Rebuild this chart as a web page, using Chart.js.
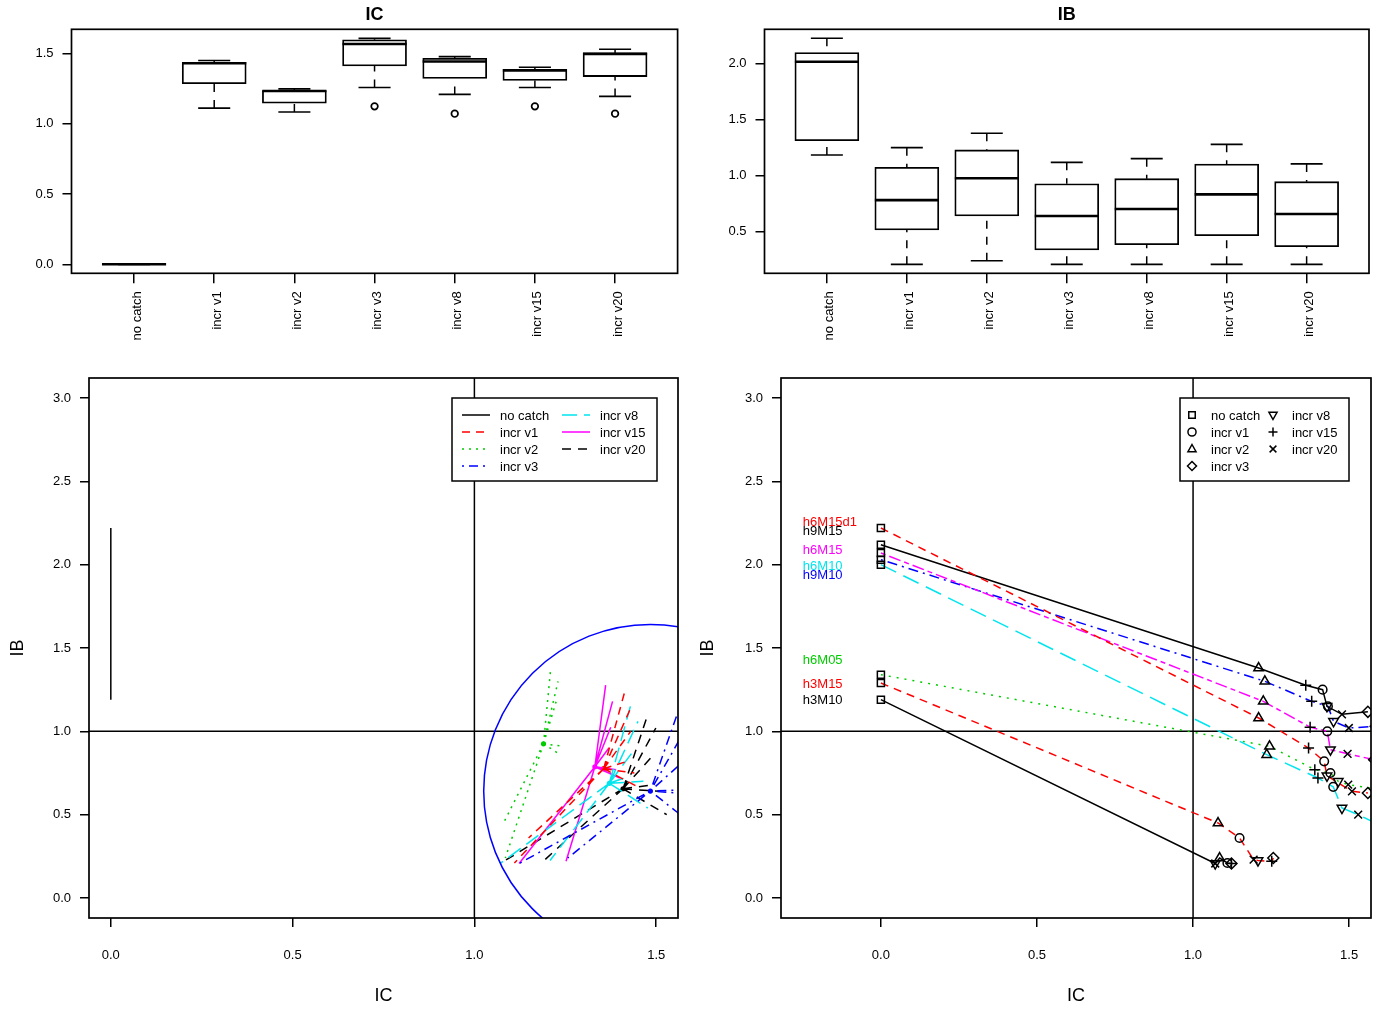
<!DOCTYPE html>
<html>
<head>
<meta charset="utf-8">
<script src="https://cdn.jsdelivr.net/npm/chart.js@4.4.1/dist/chart.umd.min.js"></script>
<style>
  html, body { margin: 0; padding: 0; background: #fff; }
  #wrap { position: relative; width: 1380px; height: 1009px; }
  canvas { position: absolute; }
</style>
</head>
<body>
<div id="wrap">
  <canvas id="boxIC" width="690" height="350" style="left:0;top:0"></canvas>
  <canvas id="boxIB" width="690" height="350" style="left:690px;top:0"></canvas>
  <canvas id="spokes" width="690" height="659" style="left:0;top:350px"></canvas>
  <canvas id="paths" width="690" height="659" style="left:690px;top:350px"></canvas>
</div>
<script>
const FONT = "'Liberation Sans', Arial, Helvetica, sans-serif";
Chart.defaults.font.family = FONT;
Chart.defaults.font.size = 13;
Chart.defaults.color = '#000';
Chart.defaults.animation = false;

// harvest rules (categories)
const rules = ['no catch', 'incr v1', 'incr v2', 'incr v3', 'incr v8', 'incr v15', 'incr v20'];

// boxplot statistics, IC panel
const icLow  = [0, 1.111, 1.083, 1.257, 1.208, 1.257, 1.194];
const icQ1   = [0, 1.284, 1.146, 1.411, 1.321, 1.307, 1.335];
const icMed  = [0, 1.430, 1.232, 1.567, 1.442, 1.378, 1.496];
const icQ3   = [0, 1.437, 1.236, 1.596, 1.465, 1.387, 1.503];
const icHigh = [0, 1.449, 1.248, 1.607, 1.477, 1.401, 1.529];
const icOut  = [[], [], [], [1.123], [1.071], [1.123], [1.071]];

// boxplot statistics, IB panel
const ibLow  = [1.182, 0.207, 0.239, 0.207, 0.207, 0.207, 0.207];
const ibQ1   = [1.310, 0.513, 0.638, 0.335, 0.382, 0.462, 0.364];
const ibMed  = [2.014, 0.780, 0.975, 0.638, 0.700, 0.831, 0.656];
const ibQ3   = [2.095, 1.072, 1.227, 0.926, 0.971, 1.102, 0.944];
const ibHigh = [2.223, 1.247, 1.376, 1.117, 1.149, 1.277, 1.102];
const ibOut  = [[], [], [], [], [], [], []];

// stocks (operating models)
const stocks = ['h6M15d1', 'h9M15', 'h6M15', 'h6M10', 'h9M10', 'h6M05', 'h3M15', 'h3M10'];

// IC / IB per rule, one value per stock (same order as stocks)
const icNoCatch = [0, 0, 0, 0, 0, 0, 0, 0];
const ibNoCatch = [2.22, 2.12, 2.07, 2.00, 2.03, 1.34, 1.29, 1.19];
const icV1  = [1.420, 1.415, 1.430, 1.449, 1.432, 1.440, 1.149, 1.110];
const ibV1  = [0.820, 1.250, 1.000, 0.667, 1.150, 0.750, 0.360, 0.210];
const icV2  = [1.210, 1.210, 1.225, 1.236, 1.230, 1.245, 1.080, 1.085];
const ibV2  = [1.080, 1.380, 1.180, 0.860, 1.300, 0.910, 0.450, 0.240];
const icV3  = [1.560, 1.560, 1.580, 1.607, 1.585, 1.600, 1.257, 1.123];
const ibV3  = [0.630, 1.117, 0.830, 0.430, 1.030, 0.650, 0.240, 0.207];
const icV8  = [1.429, 1.429, 1.440, 1.477, 1.450, 1.465, 1.208, 1.071];
const ibV8  = [0.733, 1.150, 0.890, 0.540, 1.060, 0.700, 0.225, 0.207];
const icV15 = [1.370, 1.361, 1.375, 1.400, 1.380, 1.390, 1.252, 1.123];
const ibV15 = [0.900, 1.277, 1.025, 0.720, 1.180, 0.770, 0.220, 0.207];
const icV20 = [1.509, 1.477, 1.495, 1.529, 1.499, 1.497, 1.194, 1.071];
const ibV20 = [0.640, 1.102, 0.865, 0.500, 1.020, 0.680, 0.230, 0.207];

const icByRule = [icNoCatch, icV1, icV2, icV3, icV8, icV15, icV20];
const ibByRule = [ibNoCatch, ibV1, ibV2, ibV3, ibV8, ibV15, ibV20];

// tick labels
const icBoxTicks = [0, 0.5, 1.0, 1.5];
const ibBoxTicks = [0.5, 1.0, 1.5, 2.0];
const ibTicks = [0, 0.5, 1.0, 1.5, 2.0, 2.5, 3.0];
const icTicks = [0, 0.5, 1.0, 1.5];

// styles
const ruleColors = ['#000000', '#ff0000', '#00cd00', '#0000ff', '#00e5ee', '#ff00ff', '#000000'];
const ruleDash = [[], [8, 6], [2, 5], [2, 5, 9, 5], [15, 7], [], [9, 7]];
const ruleMarker = ['rect', 'circle', 'triangle', 'rectRot', 'triangleDown', 'cross', 'crossRot'];
const stockColors = ['#ff0000', '#000000', '#ff00ff', '#00e5ee', '#0000ff', '#00cd00', '#ff0000', '#000000'];
const stockDash = [[8, 6], [], [5, 4, 12, 4], [17, 8], [2, 5, 10, 5], [2, 6], [8, 6], []];
const stockLabelY = [2.255, 2.200, 2.085, 1.990, 1.935, 1.425, 1.280, 1.185];
const stockLabelX = -0.25;
const refLine = 1.0;
const circleRadiusIB = 1.0;

// ---------- helpers ----------
function fixWidth(w) { return s => { s.width = w; }; }
function fixHeight(h) { return s => { s.height = h; }; }
function setTicks(vals) { return s => { s.ticks = vals.map(v => ({ value: v })); }; }

function drawMarker(ctx, style, x, y, r) {
  ctx.beginPath();
  if (style === 'rect') {
    const h = r * 0.72;
    ctx.rect(x - h, y - h, 2 * h, 2 * h);
  } else if (style === 'circle') {
    ctx.arc(x, y, r * 0.9, 0, Math.PI * 2);
  } else if (style === 'triangle' || style === 'triangleDown') {
    const d = style === 'triangle' ? 1 : -1;
    ctx.moveTo(x, y - d * r);
    ctx.lineTo(x + r * 0.9, y + d * r * 0.6);
    ctx.lineTo(x - r * 0.9, y + d * r * 0.6);
    ctx.closePath();
  } else if (style === 'rectRot') {
    ctx.moveTo(x, y - r); ctx.lineTo(x + r, y); ctx.lineTo(x, y + r); ctx.lineTo(x - r, y); ctx.closePath();
  } else if (style === 'cross') {
    ctx.moveTo(x - r, y); ctx.lineTo(x + r, y); ctx.moveTo(x, y - r); ctx.lineTo(x, y + r);
  } else if (style === 'crossRot') {
    const k = r * 0.75;
    ctx.moveTo(x - k, y - k); ctx.lineTo(x + k, y + k); ctx.moveTo(x - k, y + k); ctx.lineTo(x + k, y - k);
  }
  ctx.stroke();
}

const framePlugin = {
  id: 'frame',
  afterDatasetsDraw(chart) {
    const { ctx, chartArea: a } = chart;
    ctx.save();
    ctx.strokeStyle = '#000';
    ctx.lineWidth = 1.7;
    ctx.strokeRect(a.left, a.top, a.right - a.left, a.bottom - a.top);
    ctx.restore();
  }
};

const panelTitle = {
  id: 'panelTitle',
  afterDraw(chart, args, opts) {
    if (!opts.text) return;
    const { ctx, chartArea: a } = chart;
    ctx.save();
    ctx.font = 'bold 18px ' + FONT;
    ctx.fillStyle = '#000';
    ctx.textAlign = 'center';
    ctx.textBaseline = 'middle';
    ctx.fillText(opts.text, (a.left + a.right) / 2, 15);
    ctx.restore();
  }
};

// abline(h = 1, v = 1)
const refLines = {
  id: 'refLines',
  beforeDatasetsDraw(chart) {
    const { ctx, chartArea: a, scales: { x, y } } = chart;
    const px = x.getPixelForValue(refLine), py = y.getPixelForValue(refLine);
    ctx.save();
    ctx.strokeStyle = '#000';
    ctx.lineWidth = 1.5;
    ctx.beginPath();
    ctx.moveTo(px, a.top); ctx.lineTo(px, a.bottom);
    ctx.moveTo(a.left, py); ctx.lineTo(a.right, py);
    ctx.stroke();
    ctx.restore();
  }
};

// legend box drawn inside the plot, R style
const boxLegend = {
  id: 'boxLegend',
  afterDraw(chart, args, o) {
    if (!o.items) return;
    const { ctx, chartArea: a } = chart;
    const left = a.right - o.right - o.width, top = a.top + 20;
    ctx.save();
    ctx.strokeStyle = '#000';
    ctx.lineWidth = 1.5;
    ctx.fillStyle = '#fff';
    ctx.fillRect(left, top, o.width, 83);
    ctx.strokeRect(left, top, o.width, 83);
    ctx.font = '13px ' + FONT;
    ctx.textBaseline = 'middle';
    o.items.forEach((it, i) => {
      const col = i < 4 ? 0 : 1;
      const row = i < 4 ? i : i - 4;
      const x0 = left + o.cols[col];
      const yy = top + 17 + row * 17;
      ctx.strokeStyle = it.color;
      if (it.marker) {
        ctx.setLineDash([]);
        ctx.lineWidth = 1.5;
        drawMarker(ctx, it.marker, x0, yy, 4.5);
        ctx.fillStyle = '#000';
        ctx.fillText(it.label, x0 + o.textGap, yy + 1);
      } else {
        ctx.setLineDash(it.dash);
        ctx.lineWidth = 1.5;
        ctx.beginPath();
        ctx.moveTo(x0, yy); ctx.lineTo(x0 + 28, yy);
        ctx.stroke();
        ctx.setLineDash([]);
        ctx.fillStyle = '#000';
        ctx.fillText(it.label, x0 + o.textGap, yy + 1);
      }
    });
    ctx.restore();
  }
};

// ---------- boxplots ----------
function boxChart(id, title, lo, q1, med, q3, hi, out, yMin, yMax, yTicks, yW, padR) {
  const boxes = [], medLines = [], whisk = [], caps = [], outs = [];
  rules.forEach((r, i) => {
    boxes.push({ x: i, y: [q1[i], q3[i]] });
    medLines.push({ x: i - 0.4, y: med[i] }, { x: i + 0.4, y: med[i] }, { x: i, y: null });
    whisk.push({ x: i, y: hi[i] }, { x: i, y: q3[i] }, { x: i, y: null },
               { x: i, y: lo[i] }, { x: i, y: q1[i] }, { x: i, y: null });
    caps.push({ x: i - 0.2, y: hi[i] }, { x: i + 0.2, y: hi[i] }, { x: i, y: null },
              { x: i - 0.2, y: lo[i] }, { x: i + 0.2, y: lo[i] }, { x: i, y: null });
    out[i].forEach(v => outs.push({ x: i, y: v }));
  });
  return new Chart(document.getElementById(id), {
    type: 'bar',
    data: {
      datasets: [
        { type: 'bar', data: boxes, backgroundColor: '#fff', borderColor: '#000', borderWidth: 1.8,
          borderSkipped: false, barThickness: 64, order: 5 },
        { type: 'line', data: whisk, borderColor: '#000', borderWidth: 1.5, borderDash: [8, 8],
          pointRadius: 0, spanGaps: false, order: 4 },
        { type: 'line', data: caps, borderColor: '#000', borderWidth: 1.7,
          pointRadius: 0, spanGaps: false, order: 3 },
        { type: 'line', data: medLines, borderColor: '#000', borderWidth: 2.6,
          pointRadius: 0, spanGaps: false, order: 1 },
        { type: 'scatter', data: outs, borderColor: '#000', backgroundColor: 'rgba(0,0,0,0)',
          borderWidth: 1.7, pointRadius: 3.3, order: 2 }
      ]
    },
    options: {
      responsive: false,
      devicePixelRatio: 1,
      layout: { padding: { top: 29.3, right: padR, left: 0, bottom: 0 } },
      plugins: { legend: { display: false }, tooltip: { enabled: false }, panelTitle: { text: title } },
      scales: {
        x: {
          type: 'linear', min: -0.78, max: 6.78, offset: false,
          afterBuildTicks: setTicks(rules.map((r, i) => i)),
          afterFit: fixHeight(76.7),
          grid: { offset: false, drawOnChartArea: false, drawTicks: true, tickLength: 10, color: '#000', lineWidth: 1.5 },
          border: { display: false },
          ticks: { autoSkip: false, minRotation: 90, maxRotation: 90, padding: 8, labelOffset: 3,
                   callback: v => rules[v], font: { size: 13 } }
        },
        y: {
          min: yMin, max: yMax,
          afterBuildTicks: setTicks(yTicks),
          afterFit: fixWidth(yW),
          grid: { drawOnChartArea: false, drawTicks: true, tickLength: 9, color: '#000', lineWidth: 1.5 },
          border: { display: false },
          ticks: { padding: 9, callback: v => v.toFixed(1) }
        }
      }
    },
    plugins: [framePlugin, panelTitle]
  });
}

boxChart('boxIC', 'IC', icLow, icQ1, icMed, icQ3, icHigh, icOut, -0.064, 1.671, icBoxTicks, 71.5, 12.4);
boxChart('boxIB', 'IB', ibLow, ibQ1, ibMed, ibQ3, ibHigh, ibOut, 0.127, 2.303, ibBoxTicks, 74.5, 11);

// ---------- shared scatter axes ----------
function xyScales(xMin, xMax, yW) {
  return {
    x: {
      type: 'linear', min: xMin, max: xMax,
      afterBuildTicks: setTicks(icTicks),
      afterFit: fixHeight(91),
      grid: { drawOnChartArea: false, drawTicks: true, tickLength: 9, color: '#000', lineWidth: 1.5 },
      border: { display: false },
      ticks: { padding: 21, callback: v => v.toFixed(1) },
      title: { display: true, text: 'IC', font: { size: 18 }, padding: { top: 0, bottom: 2 } }
    },
    y: {
      min: -0.12, max: 3.12,
      afterBuildTicks: setTicks(ibTicks),
      afterFit: fixWidth(yW),
      grid: { drawOnChartArea: false, drawTicks: true, tickLength: 9, color: '#000', lineWidth: 1.5 },
      border: { display: false },
      ticks: { padding: 9, callback: v => v.toFixed(1) },
      title: { display: true, text: 'IB', font: { size: 18 }, padding: { top: 7, bottom: 0 } }
    }
  };
}

function mean(a) { return a.reduce((s, v) => s + v, 0) / a.length; }

// ---------- bottom left: spokes from each rule's centre to every stock ----------
const spokeSets = [], hubPts = [], hubColors = [];
rules.forEach((r, k) => {
  const hub = { x: mean(icByRule[k]), y: mean(ibByRule[k]) };
  const d = [];
  stocks.forEach((s, j) => {
    d.push({ x: hub.x, y: hub.y }, { x: icByRule[k][j], y: ibByRule[k][j] }, { x: hub.x, y: null });
  });
  spokeSets.push({ type: 'line', label: r, data: d, borderColor: ruleColors[k], borderDash: ruleDash[k],
                   borderWidth: 1.5, pointRadius: 0, spanGaps: false });
  if (k > 0) { hubPts.push(hub); hubColors.push(ruleColors[k]); }
});
const hubSet = { type: 'scatter', data: hubPts, pointRadius: 2.6, borderWidth: 0,
                 backgroundColor: hubColors };

// circle around the incr v3 centre
const v3Circle = {
  id: 'v3Circle',
  afterDatasetsDraw(chart) {
    const { ctx, chartArea: a, scales: { x, y } } = chart;
    const cx = x.getPixelForValue(mean(icV3)), cy = y.getPixelForValue(mean(ibV3));
    const r = y.getPixelForValue(0) - y.getPixelForValue(circleRadiusIB);
    ctx.save();
    ctx.beginPath();
    ctx.rect(a.left, a.top, a.right - a.left, a.bottom - a.top);
    ctx.clip();
    ctx.strokeStyle = '#0000ff';
    ctx.lineWidth = 1.5;
    ctx.beginPath();
    ctx.arc(cx, cy, r, 0, Math.PI * 2);
    ctx.stroke();
    ctx.restore();
  }
};

new Chart(document.getElementById('spokes'), {
  type: 'line',
  data: { datasets: [...spokeSets, hubSet] },
  options: {
    responsive: false,
    devicePixelRatio: 1,
    layout: { padding: { top: 28, right: 12, left: 0, bottom: 0 } },
    plugins: {
      legend: { display: false }, tooltip: { enabled: false },
      boxLegend: {
        right: 21, width: 205, cols: [10, 110], textGap: 38,
        items: rules.map((r, k) => ({ label: r, color: ruleColors[k], dash: ruleDash[k] }))
      }
    },
    scales: xyScales(-0.06, 1.56, 89)
  },
  plugins: [refLines, v3Circle, framePlugin, boxLegend]
});

// ---------- bottom right: each stock's path through the rules ----------
const pathSets = stocks.map((s, j) => {
  const pts = rules.map((r, k) => ({ x: icByRule[k][j], y: ibByRule[k][j] }));
  pts.sort((p, q) => p.x - q.x);
  return { type: 'line', label: s, data: pts, borderColor: stockColors[j], borderDash: stockDash[j],
           borderWidth: 1.5, pointRadius: 0 };
});
const markerSets = rules.map((r, k) => ({
  type: 'scatter', label: r,
  data: stocks.map((s, j) => ({ x: icByRule[k][j], y: ibByRule[k][j] })),
  pointStyle: ruleMarker[k] === 'triangleDown' ? 'triangle' : ruleMarker[k],
  rotation: ruleMarker[k] === 'triangleDown' ? 180 : 0,
  pointRadius: ruleMarker[k] === 'circle' ? 4.3 : (ruleMarker[k] === 'rect' ? 5 : 5.5),
  borderColor: '#000', backgroundColor: 'rgba(0,0,0,0)', borderWidth: 1.5
}));

const stockLabels = {
  id: 'stockLabels',
  afterDatasetsDraw(chart) {
    const { ctx, scales: { x, y } } = chart;
    ctx.save();
    ctx.font = '13px ' + FONT;
    ctx.textAlign = 'left';
    ctx.textBaseline = 'middle';
    stocks.forEach((s, j) => {
      ctx.fillStyle = stockColors[j];
      ctx.fillText(s, x.getPixelForValue(stockLabelX), y.getPixelForValue(stockLabelY[j]));
    });
    ctx.restore();
  }
};

new Chart(document.getElementById('paths'), {
  type: 'line',
  data: { datasets: [...markerSets, ...pathSets] },
  options: {
    responsive: false,
    devicePixelRatio: 1,
    layout: { padding: { top: 28, right: 9, left: 0, bottom: 0 } },
    plugins: {
      legend: { display: false }, tooltip: { enabled: false },
      boxLegend: {
        right: 22, width: 169, cols: [12, 93], textGap: 19,
        items: rules.map((r, k) => ({ label: r, color: '#000', marker: ruleMarker[k] }))
      }
    },
    scales: xyScales(-0.32, 1.57, 91)
  },
  plugins: [refLines, framePlugin, stockLabels, boxLegend]
});
</script>
</body>
</html>
